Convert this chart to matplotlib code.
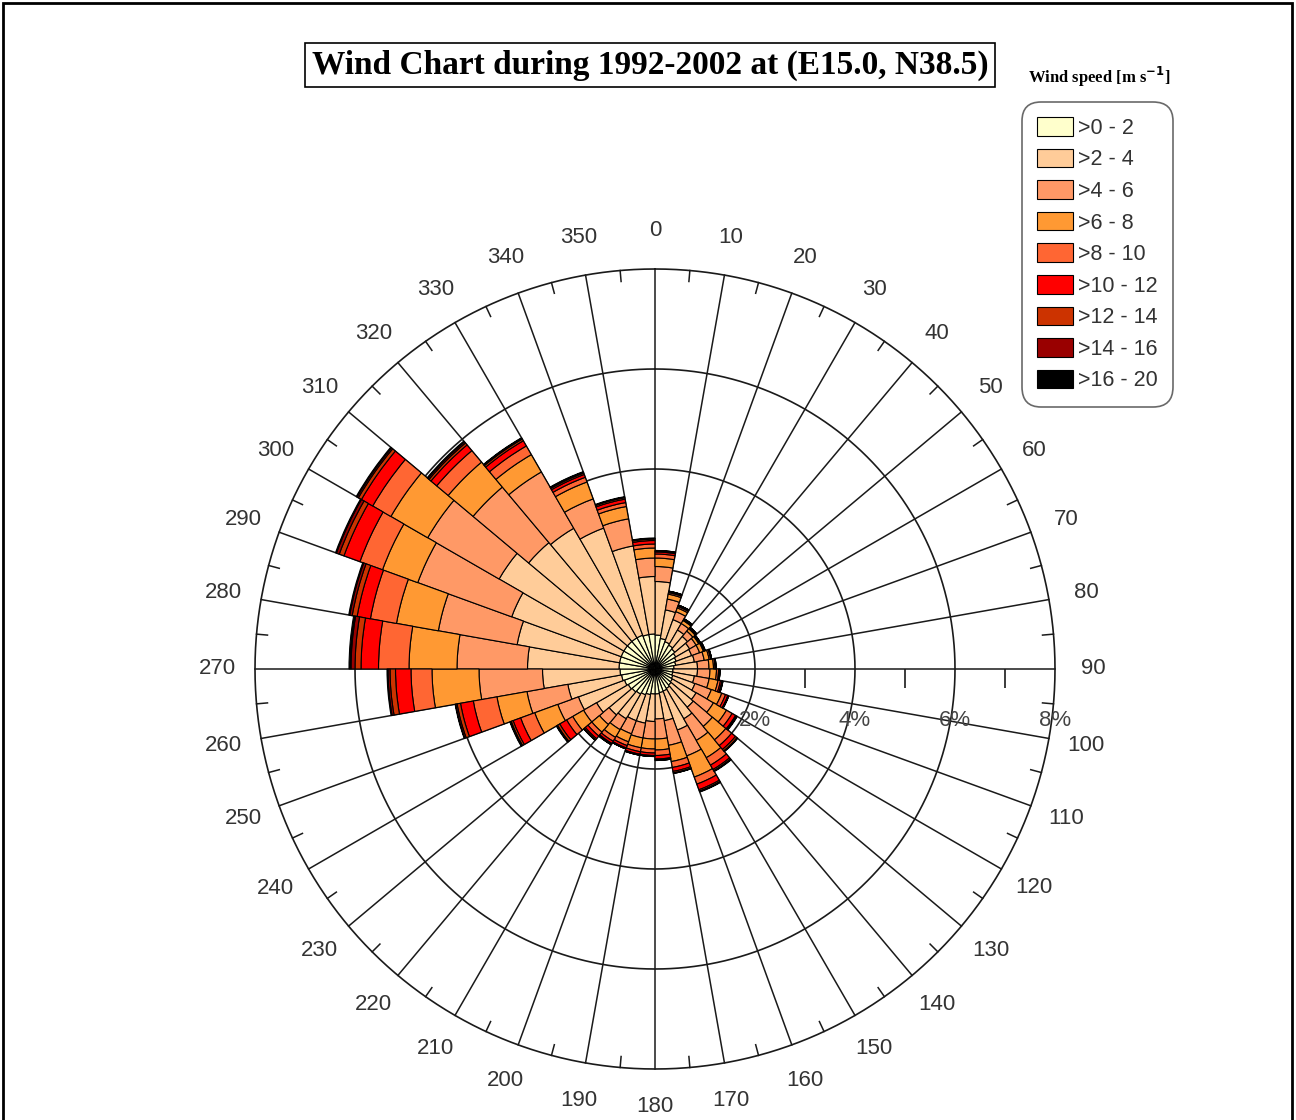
"""Wind rose: wind chart 1992-2002 at (E15.0, N38.5)"""

import numpy as np
import matplotlib
matplotlib.use('Agg')
import matplotlib.pyplot as plt
from matplotlib.patches import Rectangle
from matplotlib.transforms import offset_copy

plt.rcParams['font.family'] = ['Liberation Sans', 'DejaVu Sans']

# sector start directions (deg), each sector is 10 deg wide
directions = list(range(0, 360, 10))

speed_labels = ['>0 - 2', '>2 - 4', '>4 - 6', '>6 - 8', '>8 - 10',
                '>10 - 12', '>12 - 14', '>14 - 16', '>16 - 20']
speed_colors = ['#FFFFCC', '#FFCC99', '#FF9966', '#FF9933', '#FF6633',
                '#FF0000', '#CC3300', '#990000', '#000000']

# frequency (%) per speed class for every sector 0,10,...,350
f_0_2 = [0.68, 0.62, 0.58, 0.55, 0.52, 0.48, 0.45, 0.42, 0.38,
         0.36, 0.36, 0.38, 0.40, 0.42, 0.45, 0.47, 0.48, 0.50,
         0.50, 0.52, 0.55, 0.58, 0.60, 0.62, 0.65, 0.68, 0.70,
         0.72, 0.72, 0.72, 0.72, 0.72, 0.72, 0.72, 0.70, 0.70]
f_2_4 = [1.07, 0.58, 0.47, 0.35, 0.33, 0.32, 0.33, 0.38, 0.47,
         0.49, 0.44, 0.47, 0.55, 0.58, 0.70, 0.83, 0.57, 0.50,
         0.55, 0.58, 0.55, 0.57, 0.60, 0.73, 0.98, 1.09, 1.55,
         1.83, 2.08, 2.33, 2.88, 2.58, 2.53, 2.28, 1.80, 1.15]
f_4_6 = [0.30, 0.22, 0.17, 0.15, 0.14, 0.15, 0.17, 0.20, 0.23,
         0.25, 0.30, 0.35, 0.40, 0.50, 0.50, 0.55, 0.50, 0.40,
         0.35, 0.30, 0.28, 0.25, 0.25, 0.30, 0.44, 0.83, 1.27,
         1.41, 1.60, 2.00, 1.65, 1.45, 1.30, 0.62, 0.55, 0.37]
f_6_8 = [0.17, 0.10, 0.08, 0.07, 0.06, 0.06, 0.08, 0.10, 0.09,
         0.13, 0.18, 0.22, 0.30, 0.35, 0.40, 0.45, 0.33, 0.22,
         0.20, 0.20, 0.17, 0.18, 0.20, 0.25, 0.49, 0.61, 0.94,
         0.96, 0.85, 0.75, 0.85, 0.65, 0.40, 0.36, 0.25, 0.20]
f_8_10 = [0.08, 0.03, 0.03, 0.02, 0.02, 0.02, 0.02, 0.03, 0.03,
          0.04, 0.05, 0.08, 0.13, 0.15, 0.17, 0.15, 0.12, 0.11,
          0.08, 0.08, 0.08, 0.09, 0.10, 0.14, 0.30, 0.48, 0.42,
          0.61, 0.53, 0.48, 0.42, 0.30, 0.20, 0.10, 0.08, 0.08]
f_10_12 = [0.04, 0.02, 0.02, 0.01, 0.01, 0.01, 0.01, 0.01, 0.01,
           0.02, 0.03, 0.05, 0.08, 0.10, 0.10, 0.12, 0.08, 0.07,
           0.05, 0.05, 0.05, 0.05, 0.07, 0.16, 0.16, 0.26, 0.31,
           0.35, 0.27, 0.34, 0.26, 0.15, 0.12, 0.06, 0.07, 0.07]
f_12_14 = [0.02, 0.01, 0.01, 0.01, 0.01, 0.01, 0.01, 0.01, 0.01,
           0.01, 0.01, 0.01, 0.02, 0.04, 0.03, 0.03, 0.03, 0.02,
           0.02, 0.02, 0.02, 0.02, 0.03, 0.05, 0.04, 0.07, 0.11,
           0.12, 0.10, 0.10, 0.07, 0.05, 0.04, 0.03, 0.03, 0.03]
f_14_16 = [0.01, 0.00, 0.00, 0.00, 0.00, 0.00, 0.00, 0.00, 0.00,
           0.00, 0.01, 0.01, 0.01, 0.01, 0.01, 0.01, 0.01, 0.01,
           0.00, 0.00, 0.00, 0.01, 0.01, 0.02, 0.02, 0.03, 0.04,
           0.08, 0.05, 0.06, 0.03, 0.03, 0.02, 0.02, 0.01, 0.01]
f_16_20 = [0.00, 0.00, 0.00, 0.00, 0.00, 0.00, 0.00, 0.00, 0.00,
           0.00, 0.00, 0.00, 0.01, 0.01, 0.01, 0.01, 0.00, 0.00,
           0.00, 0.00, 0.00, 0.00, 0.00, 0.01, 0.01, 0.01, 0.02,
           0.04, 0.02, 0.02, 0.02, 0.02, 0.01, 0.01, 0.01, 0.01]

speed_freqs = [f_0_2, f_2_4, f_4_6, f_6_8, f_8_10, f_10_12, f_12_14, f_14_16, f_16_20]

ring_values = [2, 4, 6, 8]
ring_labels = ['2%', '4%', '6%', '8%']
axis_ticks = [1, 3, 5, 7]

W, H = 1296, 1120
fig = plt.figure(figsize=(W / 100, H / 100), dpi=100)
cx, cy, R = 655, 669, 400
ax = fig.add_axes([(cx - R) / W, (H - cy - R) / H, 2 * R / W, 2 * R / H],
                  projection='polar')
ax.set_theta_zero_location('N')
ax.set_theta_direction(-1)
ax.set_ylim(0, 8)
ax.set_xticks([])
ax.set_yticks([])
ax.grid(False)
ax.spines['polar'].set_visible(False)
ax.patch.set_visible(False)

theta = np.radians(np.array(directions) + 5)
width = np.radians(10)
gcol = '#1a1a1a'

# rings and radial lines (under bars)
tt = np.linspace(0, 2 * np.pi, 721)
for r in ring_values:
    ax.plot(tt, np.full_like(tt, r), color=gcol, lw=1.2, zorder=0.5, clip_on=False)
for d in directions:
    ax.plot([np.radians(d)] * 2, [0, 8], color=gcol, lw=1.1, zorder=0.5, clip_on=False)
for d in directions:
    ax.plot([np.radians(d + 5)] * 2, [7.78, 8], color=gcol, lw=1.1, zorder=0.5, clip_on=False)
ax.plot(np.radians([90] * len(axis_ticks)), axis_ticks, ls='none', marker=3,
        ms=14, mew=1.2, color=gcol, zorder=0.5, clip_on=False)

# stacked bars
bottom = np.zeros(len(directions))
handles = []
for lab, col, vals in zip(speed_labels, speed_colors, speed_freqs):
    vals = np.array(vals)
    b = ax.bar(theta, vals, width=width, bottom=bottom, color=col,
               edgecolor='black', linewidth=0.8, label=lab, zorder=2)
    handles.append(b)
    bottom = bottom + vals

# direction labels
for d in directions:
    ax.text(np.radians(d), 8.76, str(d), ha='center', va='center',
            fontsize=16, color='#333333', clip_on=False)

# percent labels below the east axis
lab_tr = offset_copy(ax.transData, fig=fig, x=0, y=-52, units='dots')
for r, lab in zip(ring_values, ring_labels):
    ax.text(np.radians(90), r, lab, transform=lab_tr, ha='center', va='center',
            fontsize=16, color='#444444', zorder=5)

# title
fig.text(650 / W, 1 - 65 / H, 'Wind Chart during 1992-2002 at (E15.0, N38.5)',
         ha='center', va='center', fontsize=24, fontweight='bold',
         family='Liberation Serif',
         bbox=dict(boxstyle='square,pad=0.2', fc='white', ec='black', lw=1.2))

fig.text(1099 / W, 1 - 77 / H, r'Wind speed [m s$^{\mathbf{-1}}$]',
         ha='center', va='center', fontsize=12, fontweight='bold',
         family='Liberation Serif')

leg = fig.legend(handles=handles, labels=speed_labels, loc='upper left',
                 bbox_to_anchor=(1022 / W, 1 - 102 / H), fontsize=15.5,
                 handlelength=1.65, handleheight=0.95, labelspacing=0.46,
                 handletextpad=0.25, borderpad=0.7, borderaxespad=0,
                 frameon=True, fancybox=True)
leg.get_frame().set_edgecolor('#444444')
leg.get_frame().set_linewidth(1.2)
leg.get_frame().set_boxstyle('round,pad=0,rounding_size=0.9')
for t in leg.get_texts():
    t.set_color('#333333')

# outer frame of the picture
fig.patches.append(Rectangle((3 / W, -0.01), (1292 - 3) / W, 1.01 - 3 / H,
                             transform=fig.transFigure, fill=False,
                             ec='black', lw=2))

fig.savefig('out.png', dpi=100)
